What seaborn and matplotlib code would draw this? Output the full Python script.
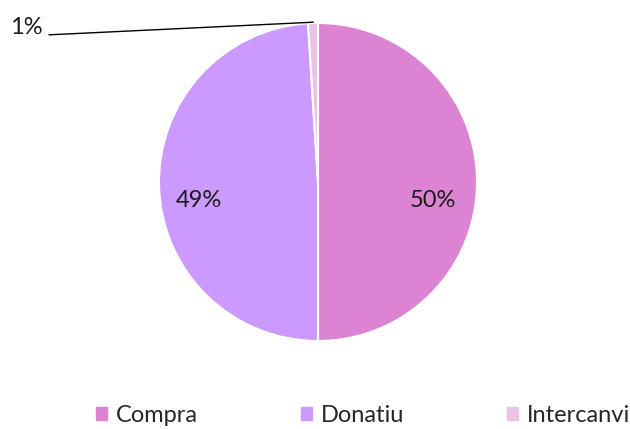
import matplotlib
matplotlib.use("Agg")
import matplotlib.pyplot as plt
import matplotlib.patches as mpatches
import seaborn as sns

# === Data ===
categories = ["Compra", "Donatiu", "Intercanvi"]
shares = [50, 49, 1]
colors = ["#DC84D3", "#CC99FF", "#EAC2E3"]

sns.set_theme(style="white")
plt.rcParams["font.family"] = ["Lato", "DejaVu Sans"]
FS = 17

fig = plt.figure(figsize=(6.3, 4.29), dpi=100)
ax = fig.add_axes([159 / 630, 88 / 429, 318 / 630, 318 / 429])

wedges, _ = ax.pie(
    shares,
    colors=sns.color_palette(colors),
    startangle=90,
    counterclock=False,
    radius=1,
    wedgeprops=dict(edgecolor="white", linewidth=1.5),
)
ax.set_xlim(-1, 1)
ax.set_ylim(-1, 1)
ax.set_aspect("equal")
ax.axis("off")

# percentage labels
labels = [f"{v}%" for v in shares]
ax.text(0.72, -0.115, labels[0], ha="center", va="center", fontsize=FS, color="#1a1a1a")
ax.text(-0.75, -0.115, labels[1], ha="center", va="center", fontsize=FS, color="#1a1a1a")

# leader line for the small slice
ax.annotate(
    labels[2],
    xy=(-0.03, 1.005),
    xytext=(-1.73, 0.97),
    ha="right",
    va="center",
    fontsize=FS,
    color="#1a1a1a",
    annotation_clip=False,
    arrowprops=dict(arrowstyle="-", color="black", lw=1, shrinkA=2, shrinkB=0,
                    relpos=(1.0, 0.15)),
)

# legend
handles = [mpatches.Patch(color=c, label=l) for c, l in zip(colors, categories)]
fig.legend(
    handles=handles,
    loc="center",
    bbox_to_anchor=(0.576, 14 / 429),
    ncol=3,
    frameon=False,
    fontsize=FS,
    handlelength=0.48,
    handleheight=0.48,
    handletextpad=0.37,
    columnspacing=4.35,
)

plt.savefig("out.png", dpi=100)
plt.close()
